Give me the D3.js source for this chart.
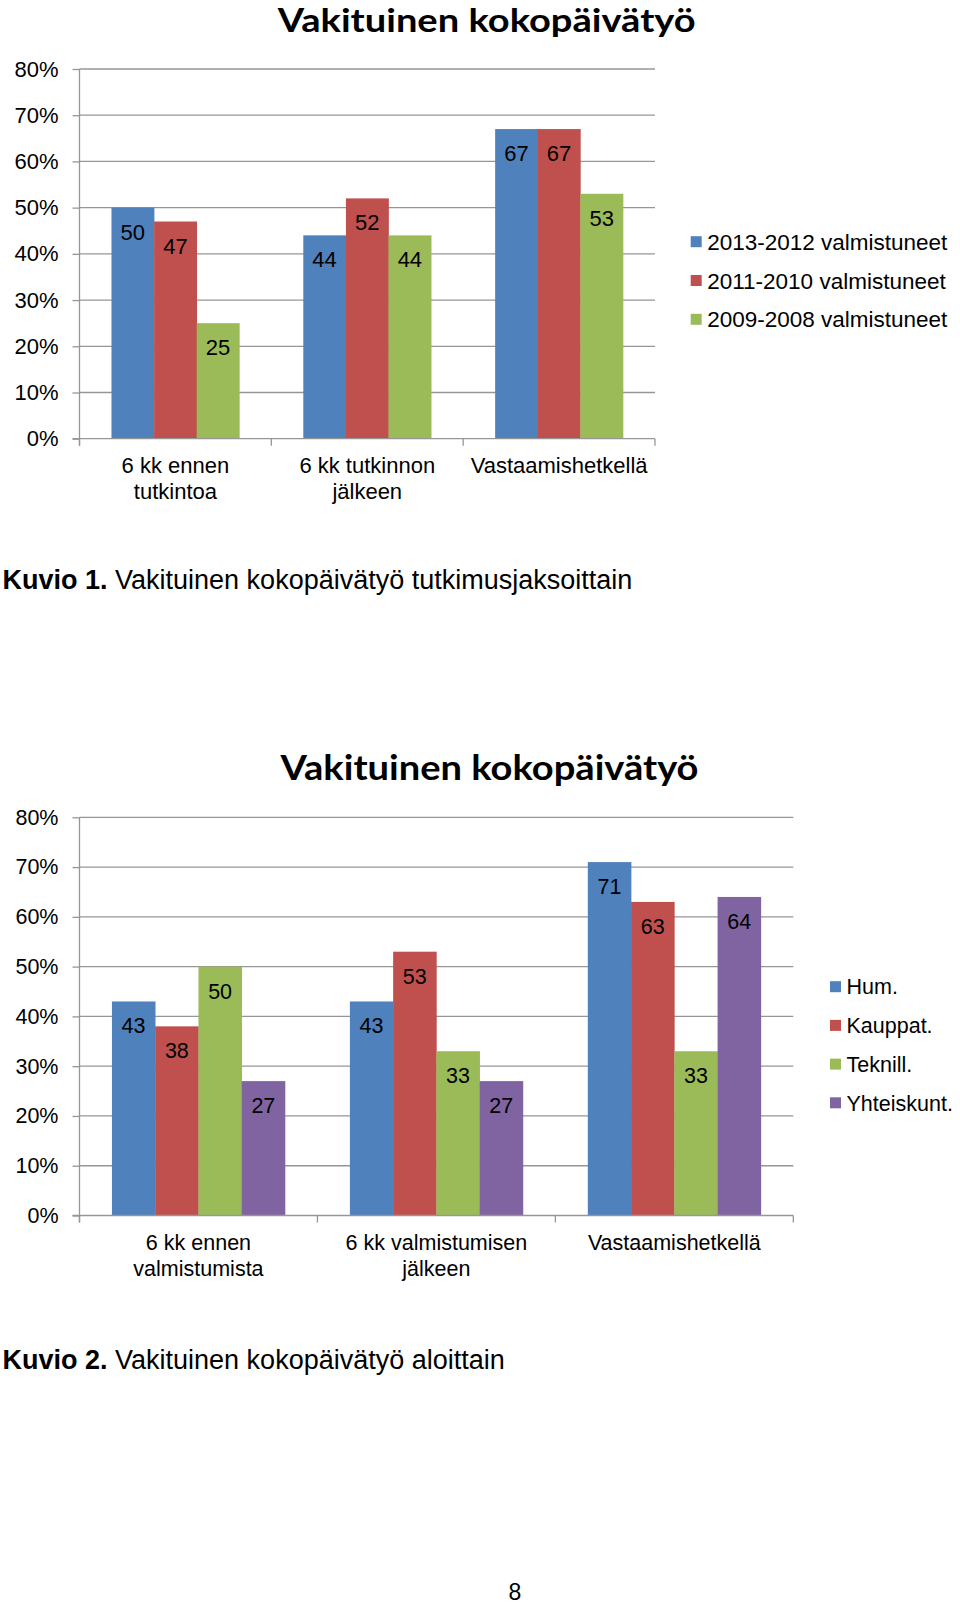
<!DOCTYPE html>
<html>
<head>
<meta charset="utf-8">
<script src="https://cdn.jsdelivr.net/npm/d3@7"></script>
<style>
  body { margin: 0; background: #fff; }
  text { font-family: "Liberation Sans", Arial, sans-serif; fill: #000; }
</style>
</head>
<body>
<div id="content"></div>
<script>
// chart 1 data
var cats1 = [["6 kk ennen", "tutkintoa"], ["6 kk tutkinnon", "jälkeen"], ["Vastaamishetkellä"]];
var series1 = ["2013-2012 valmistuneet", "2011-2010 valmistuneet", "2009-2008 valmistuneet"];
var vals2013 = [50, 44, 67];
var vals2011 = [47, 52, 67];
var vals2009 = [25, 44, 53];

// chart 2 data
var cats2 = [["6 kk ennen", "valmistumista"], ["6 kk valmistumisen", "jälkeen"], ["Vastaamishetkellä"]];
var series2 = ["Hum.", "Kauppat.", "Teknill.", "Yhteiskunt."];
var valsHum = [43, 43, 71];
var valsKauppat = [38, 53, 63];
var valsTeknill = [50, 33, 33];
var valsYhteis = [27, 27, 64];

var yTicks = [0, 10, 20, 30, 40, 50, 60, 70, 80];
var colors = ["#4F81BD", "#C0504D", "#9BBB59", "#8064A2"];
var titleText = "Vakituinen kokopäivätyö";

var w = 960, h = 1610;

var svg = d3.select("#content")
    .append("svg")
    .attr("width", w)
    .attr("height", h);

svg.append("rect").attr("width", w).attr("height", h).attr("fill", "#fff");

drawChart({
    cats: cats1, series: series1, values: [vals2013, vals2011, vals2009],
    left: 79.5, right: 655, top: 69, bottom: 438.7,
    titleX: 486.7, titleY: 31.7, titleSize: 32,
    legX: 690.7, legY: 241.7, legStep: 38.8, legFont: 22.5,
    font: 22
});

drawChart({
    cats: cats2, series: series2, values: [valsHum, valsKauppat, valsTeknill, valsYhteis],
    left: 79.5, right: 793.3, top: 817.3, bottom: 1215.5,
    titleX: 489.5, titleY: 779.6, titleSize: 34,
    legX: 830, legY: 986.7, legStep: 38.7, legFont: 21.5,
    font: 21.5
});

// captions
caption(589.3, "Kuvio 1.", " Vakituinen kokopäivätyö tutkimusjaksoittain");
caption(1369.3, "Kuvio 2.", " Vakituinen kokopäivätyö aloittain");

svg.append("text")
    .attr("x", 515)
    .attr("y", 1599.5)
    .attr("text-anchor", "middle")
    .style("font-size", "23px")
    .text("8");

function caption(y, bold, rest) {
    var t = svg.append("text")
        .attr("x", 2.5)
        .attr("y", y)
        .style("font-size", "27px");
    t.append("tspan").style("font-weight", "bold").text(bold);
    t.append("tspan").text(rest);
}

function drawChart(c) {
    var g = svg.append("g");
    var grey = "#969696";

    var y = d3.scaleLinear().domain([0, 80]).range([c.bottom, c.top]);
    var x0 = d3.scaleBand()
        .domain(d3.range(c.cats.length))
        .range([c.left, c.right])
        .paddingInner(0).paddingOuter(0);
    var x1 = d3.scaleBand()
        .domain(d3.range(c.series.length))
        .range([0, x0.bandwidth()])
        .paddingInner(0)
        .paddingOuter(0.75);

    // title
    g.append("text")
        .attr("x", c.titleX)
        .attr("y", c.titleY)
        .attr("text-anchor", "middle")
        .attr("textLength", 418)
        .attr("lengthAdjust", "spacingAndGlyphs")
        .style("font-family", "Lato, 'Liberation Sans Narrow', sans-serif")
        .style("font-weight", "bold")
        .style("font-size", c.titleSize + "px")
        .text(titleText);

    // gridlines
    g.selectAll("line.grid")
        .data(yTicks.filter(function(d) { return d > 0; }))
        .enter().append("line")
        .attr("class", "grid")
        .attr("x1", c.left)
        .attr("x2", c.right)
        .attr("y1", function(d) { return y(d); })
        .attr("y2", function(d) { return y(d); })
        .attr("stroke", grey)
        .attr("stroke-width", 1.3);

    // y axis
    var yAxis = d3.axisLeft(y)
        .tickValues(yTicks)
        .tickSize(7)
        .tickPadding(14)
        .tickFormat(function(d) { return d + "%"; });
    var ya = g.append("g")
        .attr("transform", "translate(" + c.left + ",0)")
        .call(yAxis);
    ya.select(".domain").remove();
    ya.selectAll("line").attr("stroke", grey).attr("stroke-width", 1.3);
    ya.selectAll("text")
        .style("font-family", "'Liberation Sans', Arial, sans-serif")
        .style("font-size", c.font + "px")
        .attr("fill", "#000");

    g.append("line")
        .attr("x1", c.left).attr("x2", c.left)
        .attr("y1", c.top).attr("y2", c.bottom + 7)
        .attr("stroke", grey).attr("stroke-width", 1.3);

    // bars
    var groups = g.selectAll("g.cat")
        .data(c.cats)
        .enter().append("g")
        .attr("class", "cat")
        .attr("transform", function(d, i) { return "translate(" + x0(i) + ",0)"; });

    c.values.forEach(function(vals, s) {
        groups.append("rect")
            .attr("x", x1(s))
            .attr("width", x1.bandwidth() + 0.3)
            .attr("y", function(d, i) { return y(vals[i]); })
            .attr("height", function(d, i) { return y(0) - y(vals[i]); })
            .attr("fill", colors[s]);
        groups.append("text")
            .attr("x", x1(s) + x1.bandwidth() / 2)
            .attr("y", function(d, i) { return y(vals[i]) + 32; })
            .attr("text-anchor", "middle")
            .style("font-size", c.font + "px")
            .text(function(d, i) { return vals[i]; });
    });

    // x axis
    g.append("line")
        .attr("x1", c.left - 7).attr("x2", c.right)
        .attr("y1", y(0)).attr("y2", y(0))
        .attr("stroke", grey).attr("stroke-width", 1.3);

    var edges = c.cats.map(function(d, i) { return x0(i); }).concat([c.right]);
    g.selectAll("line.xtick")
        .data(edges)
        .enter().append("line")
        .attr("class", "xtick")
        .attr("x1", function(d) { return d; })
        .attr("x2", function(d) { return d; })
        .attr("y1", y(0))
        .attr("y2", y(0) + 7)
        .attr("stroke", grey).attr("stroke-width", 1.3);

    var labels = g.selectAll("text.xlab")
        .data(c.cats)
        .enter().append("text")
        .attr("class", "xlab")
        .attr("text-anchor", "middle")
        .style("font-size", c.font + "px");
    labels.selectAll("tspan")
        .data(function(d, i) { return d.map(function(line) { return {line: line, i: i}; }); })
        .enter().append("tspan")
        .attr("x", function(d) { return x0(d.i) + x0.bandwidth() / 2; })
        .attr("y", function(d, j) { return y(0) + 34 + j * 26; })
        .text(function(d) { return d.line; });

    // legend
    var leg = g.selectAll("g.leg")
        .data(c.series)
        .enter().append("g")
        .attr("class", "leg")
        .attr("transform", function(d, i) { return "translate(" + c.legX + "," + (c.legY + i * c.legStep) + ")"; });
    leg.append("rect")
        .attr("x", 0).attr("y", -5.5)
        .attr("width", 11).attr("height", 11)
        .attr("fill", function(d, i) { return colors[i]; });
    leg.append("text")
        .attr("x", 16.5)
        .attr("dy", "0.36em")
        .style("font-size", c.legFont + "px")
        .text(function(d) { return d; });
}
</script>
</body>
</html>
